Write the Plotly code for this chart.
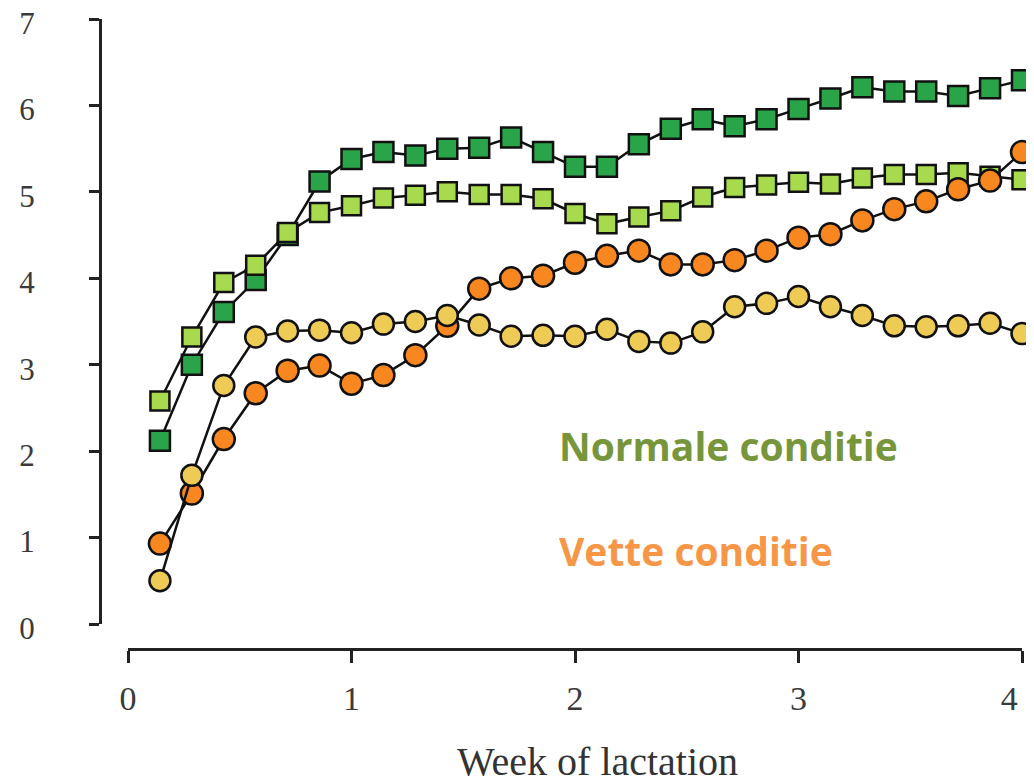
import plotly.graph_objects as go

days = list(range(1, 29))
weeks = [d / 7 for d in days]

normal_dark = [2.12, 3.0, 3.61, 3.98, 4.5, 5.12, 5.38, 5.46, 5.42, 5.5, 5.51, 5.63, 5.46, 5.29,
               5.29, 5.55, 5.73, 5.84, 5.76, 5.84, 5.96, 6.08, 6.21, 6.16, 6.16, 6.11, 6.2, 6.29]
normal_light = [2.58, 3.32, 3.95, 4.15, 4.53, 4.76, 4.84, 4.93, 4.96, 5.0, 4.97, 4.97, 4.92, 4.75,
                4.63, 4.71, 4.78, 4.94, 5.05, 5.08, 5.11, 5.09, 5.16, 5.2, 5.2, 5.22, 5.18, 5.14]
fat_orange = [0.93, 1.51, 2.14, 2.67, 2.93, 2.99, 2.78, 2.88, 3.11, 3.45, 3.88, 4.0, 4.03, 4.18,
              4.26, 4.32, 4.16, 4.16, 4.21, 4.32, 4.47, 4.51, 4.67, 4.8, 4.89, 5.03, 5.13, 5.46]
fat_yellow = [0.5, 1.72, 2.76, 3.32, 3.39, 3.4, 3.37, 3.47, 3.5, 3.57, 3.46, 3.33, 3.34, 3.33,
              3.41, 3.27, 3.25, 3.38, 3.67, 3.71, 3.79, 3.67, 3.57, 3.45, 3.44, 3.45, 3.48, 3.36]

x_ticks = [0, 1, 2, 3, 4]
# the last label sits slightly left of its tick in the reference (image edge)
x_tick_text = ["0", "1", "2", "3", "4\u00a0\u00a0\u00a0"]
y_ticks = [0, 1, 2, 3, 4, 5, 6, 7]

series = [
    ("Normaal 1", normal_dark, "square", "#2AA449", 20),
    ("Normaal 2", normal_light, "square", "#A8DA4E", 19),
    ("Vet 1", fat_orange, "circle", "#F7871E", 22),
    ("Vet 2", fat_yellow, "circle", "#EECB55", 21),
]

fig = go.Figure()
for name, vals, sym, col, size in series:
    fig.add_trace(go.Scatter(
        x=weeks, y=vals, mode="lines+markers", name=name,
        line=dict(color="#111111", width=2.5),
        marker=dict(symbol=sym, size=size, color=col,
                    line=dict(color="#111111", width=2.5)),
        showlegend=False, cliponaxis=False,
    ))

# the page body adds an 8px margin, so positions below are reference pixels minus 8
OFF = 8
W, H = 1034 - OFF, 783 - OFF
y_axis_x = 100 - OFF
y_top = 19 - OFF
y_zero = 624 - OFF
x_axis_y = 649 - OFF
x_zero = 128 - OFF
x_four = 1022 - OFF

ml, mt = y_axis_x, y_top
mb = H - x_axis_y
mr = W - x_four
plot_w = W - ml - mr
plot_h = H - mt - mb


def px(x):
    return (x - OFF - ml) / plot_w


def py(y):
    return 1 - (y - OFF - mt) / plot_h


fig.update_layout(
    width=W, height=H,
    margin=dict(l=ml, r=mr, t=mt, b=mb, autoexpand=False),
    paper_bgcolor="white", plot_bgcolor="white",
    xaxis=dict(
        domain=[(x_zero - ml) / plot_w, 1], range=[0, 4.0],
        tickvals=x_ticks, ticktext=x_tick_text,
        anchor="free", position=0, automargin=False,
        showline=True, linecolor="#222222", linewidth=3,
        ticks="outside", ticklen=12, tickwidth=3, tickcolor="#222222",
        showgrid=False, zeroline=False,
        tickfont=dict(family="Liberation Serif", size=34, color="#3a3a3a"),
        ticklabelstandoff=6, ticklabeloverflow="allow",
    ),
    yaxis=dict(
        domain=[(x_axis_y - y_zero) / plot_h, 1], range=[0, 7], tickvals=y_ticks,
        anchor="free", position=0, automargin=False,
        showline=True, linecolor="#222222", linewidth=3,
        ticks="outside", ticklen=10, tickwidth=3, tickcolor="#222222",
        showgrid=False, zeroline=False,
        tickfont=dict(family="Liberation Serif", size=31, color="#3a3a3a"),
        ticklabelstandoff=48, ticklabeloverflow="allow", ticklabelshift=4,
    ),
    annotations=[
        dict(text="Week of lactation", xref="paper", yref="paper",
             x=px(597), y=py(761), xanchor="center", yanchor="middle",
             showarrow=False, font=dict(family="Liberation Serif", size=40, color="#333333")),
        dict(text="<b>Normale conditie</b>", xref="paper", yref="paper",
             x=px(557), y=py(445), xanchor="left", yanchor="middle",
             showarrow=False, font=dict(family="Open Sans", size=39, color="#77963C")),
        dict(text="<b>Vette conditie</b>", xref="paper", yref="paper",
             x=px(557), y=py(550), xanchor="left", yanchor="middle",
             showarrow=False, font=dict(family="Open Sans", size=39, color="#F79646")),
    ],
)

fig.write_html("out.html")
